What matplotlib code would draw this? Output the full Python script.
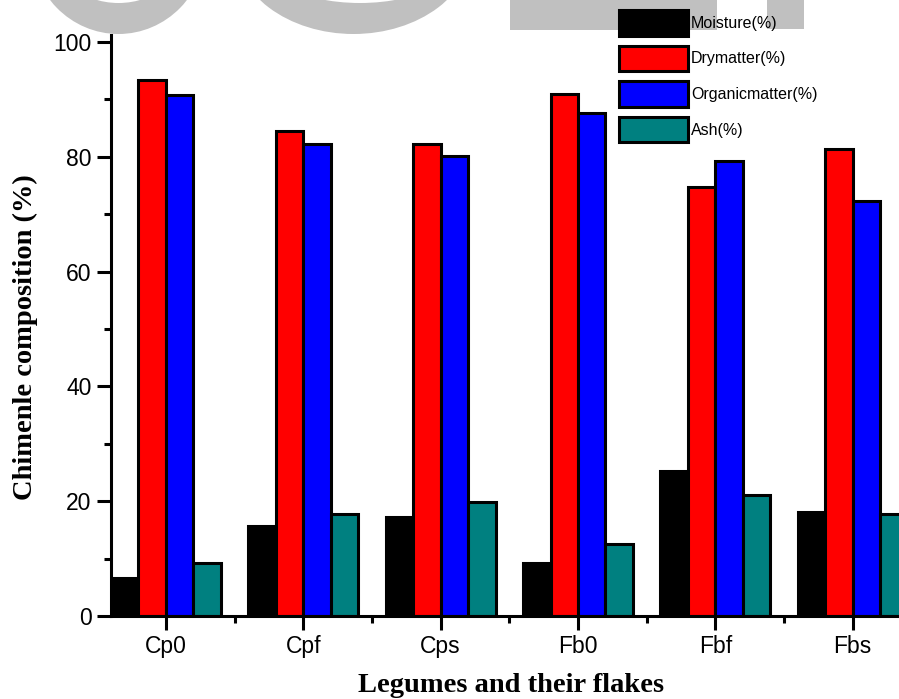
import numpy as np
import matplotlib
matplotlib.use("Agg")
from matplotlib import pyplot as plt
import matplotlib.patches as patches

# composition of each legume / flake sample (%)
samples = ["Cp0", "Cpf", "Cps", "Fb0", "Fbf", "Fbs"]
moisture = [6.6, 15.6, 17.2, 9.2, 25.3, 18.2]
drymatter = [93.4, 84.4, 82.3, 90.9, 74.8, 81.3]
organic = [90.8, 82.3, 80.2, 87.6, 79.2, 72.2]
ash = [9.2, 17.7, 19.9, 12.5, 21.0, 17.7]

series_names = ["Moisture(%)", "Drymatter(%)", "Organicmatter(%)", "Ash(%)"]
series_colors = ["#000000", "#ff0000", "#0000ff", "#008080"]

W, H = 899, 699
fig = plt.figure(figsize=(W / 100, H / 100), dpi=100, facecolor="white")


def fx(px):
    return px / W


def fy(py):
    return 1 - py / H


""" grey letters in the page header """
grey = "#c0c0c0"
shapes = [
    patches.Ellipse((fx(118.5), fy(-56)), 175 / W, 180 / H, facecolor=grey, edgecolor="none"),
    patches.Ellipse((fx(118.5), fy(-57)), 138 / W, 120 / H, facecolor="white", edgecolor="none"),
    patches.Ellipse((fx(353.5), fy(-56)), 239 / W, 180 / H, facecolor=grey, edgecolor="none"),
    patches.Ellipse((fx(360), fy(-57)), 224 / W, 120 / H, facecolor="white", edgecolor="none"),
    patches.Rectangle((fx(510), fy(30)), 207 / W, 30 / H, facecolor=grey, edgecolor="none"),
    patches.Rectangle((fx(767), fy(29)), 37 / W, 29 / H, facecolor=grey, edgecolor="none"),
]
for k, s in enumerate(shapes):
    s.set_transform(fig.transFigure)
    s.set_zorder(-10 + k * 0.1)
    fig.add_artist(s)

""" bars """
ax = fig.add_axes([fx(111), fy(616), 796.6 / W, 581 / H])
ax.set_facecolor("none")

x = np.arange(1, len(samples) + 1)
width = 0.2
for i, (vals, name, color) in enumerate(zip([moisture, drymatter, organic, ash],
                                            series_names, series_colors)):
    ax.bar(x + (i - 1.5) * width, vals, width, color=color, edgecolor="black",
           linewidth=2.2, label=name)

ax.set_xlim(0.6, 6.4)
ax.set_ylim(0, 101.2)
ax.set_xticks(x)
ax.set_xticklabels(samples)
ax.set_xticks(x[:-1] + 0.5, minor=True)
ax.set_yticks(np.arange(0, 101, 20))
ax.set_yticks(np.arange(10, 100, 20), minor=True)

for side in ["top", "right"]:
    ax.spines[side].set_visible(False)
for side in ["left", "bottom"]:
    ax.spines[side].set_linewidth(2.2)

ax.tick_params(which="major", direction="out", length=10, width=2.2, pad=4,
               labelsize=16.5)
ax.tick_params(which="minor", direction="out", length=5, width=2.2)
for lab in ax.get_xticklabels() + ax.get_yticklabels():
    lab.set_family("Liberation Sans")

leg = ax.legend(loc="upper left", bbox_to_anchor=(fx(619), fy(10)),
                bbox_transform=fig.transFigure, frameon=False, borderpad=0,
                borderaxespad=0, handlelength=4.3, handleheight=2.12,
                handletextpad=0.2, labelspacing=0.6,
                prop={"family": "Liberation Sans", "size": 11.5})

fig.text(fx(25), fy(337), "Chimenle composition (%)", rotation=90,
         ha="center", va="center", fontsize=20.5, fontweight="bold",
         family="Liberation Serif")
fig.text(fx(511), fy(686), "Legumes and their flakes", ha="center",
         va="center", fontsize=20.5, fontweight="bold",
         family="Liberation Serif")

fig.savefig("out.png", dpi=100, facecolor="white")
